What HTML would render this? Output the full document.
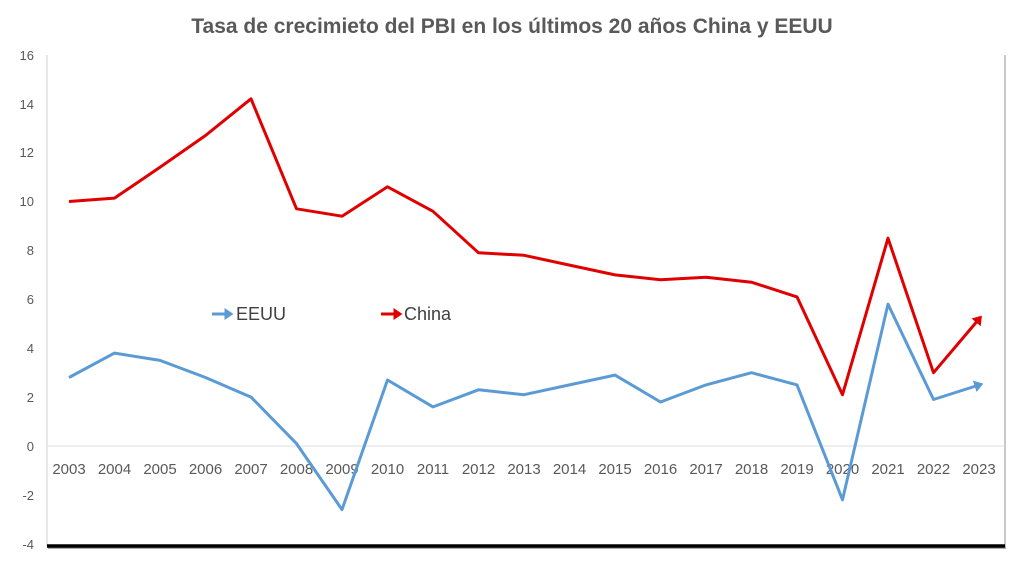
<!DOCTYPE html>
<html><head><meta charset="utf-8"><style>
body{margin:0;background:#fff;}
svg{display:block;font-family:"Liberation Sans",sans-serif;}
</style></head><body>
<svg width="1024" height="576" viewBox="0 0 1024 576">
<defs>
<marker id="ar" markerWidth="4" markerHeight="4" refX="1.5" refY="2" orient="auto" markerUnits="strokeWidth"><path d="M0,0 L3,2 L0,4 z" fill="#e00000"/></marker>
<marker id="ab" markerWidth="4" markerHeight="4" refX="1.5" refY="2" orient="auto" markerUnits="strokeWidth"><path d="M0,0 L3,2 L0,4 z" fill="#5b9bd5"/></marker>
</defs>
<text x="512" y="33" text-anchor="middle" font-size="21" font-weight="bold" fill="#595959">Tasa de crecimieto del PBI en los últimos 20 años China y EEUU</text>
<line x1="47" y1="55" x2="47" y2="546" stroke="#d0d0d0" stroke-width="1"/>
<line x1="1005" y1="55" x2="1005" y2="546" stroke="#c8c8c8" stroke-width="2"/>
<line x1="47" y1="446" x2="1005" y2="446" stroke="#dcdcdc" stroke-width="1"/>
<rect x="48" y="546" width="958" height="3" fill="#aaa"/>
<line x1="47" y1="546" x2="1005" y2="546" stroke="#000" stroke-width="3.5"/>
<g font-size="13" fill="#595959" text-anchor="end">
<text x="34" y="60">16</text><text x="34" y="109">14</text><text x="34" y="157">12</text><text x="34" y="206">10</text><text x="34" y="255">8</text><text x="34" y="304">6</text><text x="34" y="353">4</text><text x="34" y="402">2</text><text x="34" y="451">0</text><text x="34" y="500">-2</text><text x="34" y="549">-4</text>
</g>
<g font-size="15" fill="#595959" text-anchor="middle">
<text x="69" y="474">2003</text><text x="114.5" y="474">2004</text><text x="160" y="474">2005</text><text x="205.5" y="474">2006</text><text x="251" y="474">2007</text><text x="296.5" y="474">2008</text><text x="342" y="474">2009</text><text x="387.5" y="474">2010</text><text x="433" y="474">2011</text><text x="478.5" y="474">2012</text><text x="524" y="474">2013</text><text x="569.5" y="474">2014</text><text x="615" y="474">2015</text><text x="660.5" y="474">2016</text><text x="706" y="474">2017</text><text x="751.5" y="474">2018</text><text x="797" y="474">2019</text><text x="842.5" y="474">2020</text><text x="888" y="474">2021</text><text x="933.5" y="474">2022</text><text x="979" y="474">2023</text>
</g>
<polyline fill="none" stroke="#e00000" stroke-width="3" stroke-linejoin="round" marker-end="url(#ar)" points="69,201.5 114.5,198.1 160,167.3 205.5,135.5 251,98.8 296.5,208.8 342,216.2 387.5,186.8 433,211.3 478.5,252.8 524,255.3 569.5,265.1 615,274.9 660.5,279.7 706,277.3 751.5,282.2 797,296.9 842.5,394.7 888,238.2 933.5,372.7 979,319"/>
<polyline fill="none" stroke="#5b9bd5" stroke-width="3" stroke-linejoin="round" marker-end="url(#ab)" points="69,377.5 114.5,353.1 160,360.4 205.5,377.5 251,397.1 296.5,443.6 342,509.6 387.5,380 433,406.9 478.5,389.8 524,394.7 569.5,384.9 615,375.1 660.5,402 706,384.9 751.5,372.7 797,384.9 842.5,499.8 888,304.2 933.5,399.5 979,385"/>
<line x1="212" y1="314" x2="229" y2="314" stroke="#5b9bd5" stroke-width="3" marker-end="url(#ab)"/>
<text x="236" y="320" font-size="18" fill="#404040">EEUU</text>
<line x1="381" y1="314" x2="398" y2="314" stroke="#e00000" stroke-width="3" marker-end="url(#ar)"/>
<text x="404" y="320" font-size="18" fill="#404040">China</text>
</svg>
</body></html>
